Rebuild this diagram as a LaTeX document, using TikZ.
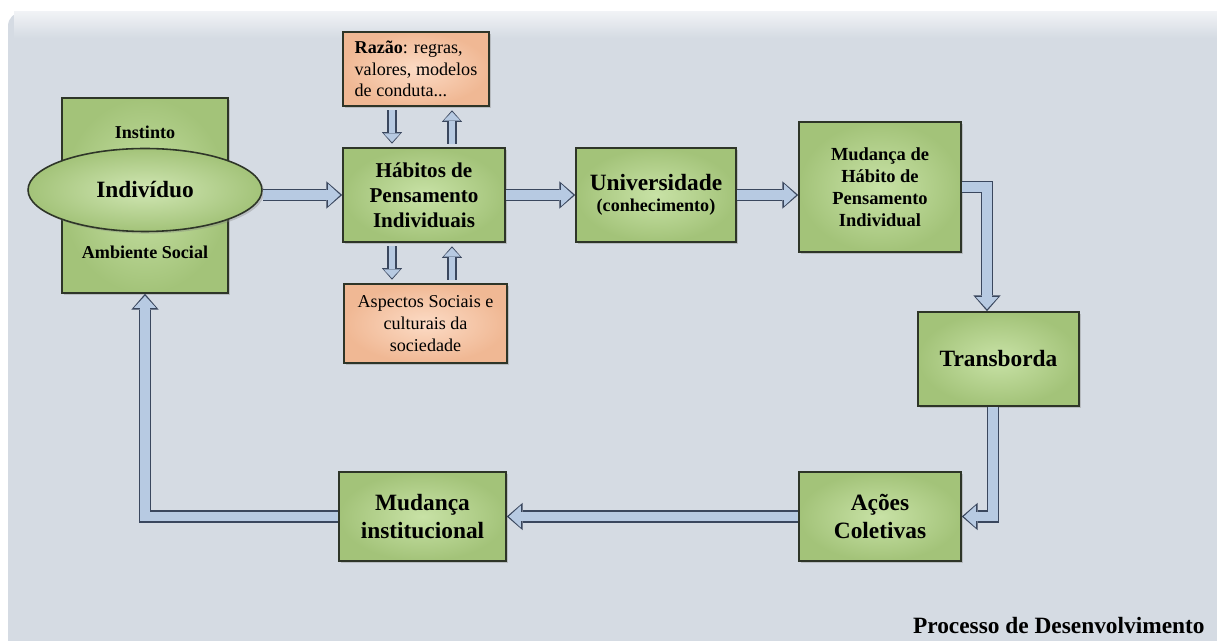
\documentclass[tikz,border=0pt]{standalone}
\usepackage{fontspec}
\setmainfont{Liberation Serif}
\usetikzlibrary{arrows.meta,shadows,shapes.geometric}

\definecolor{panel}{HTML}{D5DBE3}
\definecolor{greenin}{HTML}{C8E2A6}
\definecolor{greenout}{HTML}{A3C379}
\definecolor{orangein}{HTML}{FCDBC5}
\definecolor{orangeout}{HTML}{F0B894}
\definecolor{arrowfill}{HTML}{B7CAE2}
\definecolor{arrowline}{HTML}{3A475E}
\definecolor{boxline}{HTML}{2E3528}

\newcommand\bigtxt{\fontsize{13.3}{15.5}\selectfont\bfseries}
\newcommand\midtxt{\fontsize{12}{14.2}\selectfont\bfseries}
\newcommand\smalltxt{\fontsize{10.3}{12.4}\selectfont}

\pgfdeclarelayer{background layer}
\pgfsetlayers{background layer,main}
\tikzstyle{greenbox}=[rectangle,draw=boxline,line width=0.9pt,inner color=greenin,outer color=greenout,align=center,drop shadow={shadow xshift=1.2pt,shadow yshift=-1.2pt,opacity=0.35}]
\tikzstyle{orangebox}=[rectangle,draw=boxline,line width=0.9pt,inner color=orangein,outer color=orangeout,drop shadow={shadow xshift=1.2pt,shadow yshift=-1.2pt,opacity=0.35}]
\tikzstyle{flow}=[draw=arrowfill,line width=5.2pt,line join=miter,shorten >=1.2pt,-{Triangle[length=6.8pt,width=12.5pt,line width=0pt]},preaction={draw=arrowline,line width=7pt,shorten >=0pt,-{Triangle[length=9pt,width=15.5pt,line width=0pt]}}]
\tikzstyle{smallflow}=[draw=arrowfill,line width=3.6pt,shorten >=2.9pt,shorten <=2pt,-{Triangle[length=5pt,width=9.5pt,line width=0pt]},preaction={draw=arrowline,line width=5.2pt,shorten >=2pt,-{Triangle[length=6.6pt,width=11.5pt,line width=0pt]}}]

\begin{document}
\begin{tikzpicture}[x=0.02cm,y=-0.02cm]
		\useasboundingbox (0,0) rectangle (1217,641);
		\begin{pgfonlayer}{background layer}
			\fill[panel,rounded corners=8pt](8,12) rectangle (1230,660);
			\shade[top color=panel!35!white,bottom color=panel](14,12) rectangle (1217,38);
		\end{pgfonlayer}

		\node (amb) at (145,195.5) [greenbox,minimum width=3.32cm,minimum height=3.9cm] {};
		\node (ins) at (145,132) [font=\smalltxt\bfseries] {Instinto};
		\node (soc) at (145,252) [font=\smalltxt\bfseries] {Ambiente Social};
		\node (ind) at (145,190) [ellipse,draw=boxline,line width=0.9pt,inner color=greenin!85!white,outer color=greenout,minimum width=4.68cm,minimum height=1.66cm,font=\bigtxt,drop shadow={shadow xshift=1.2pt,shadow yshift=-1.2pt,opacity=0.35}] {Indivíduo};

		\node (raz) at (416,69) [orangebox,minimum width=2.92cm,minimum height=1.48cm,align=left,font=\smalltxt] {\textbf{Razão}: regras,\\valores, modelos\\de conduta...};
		\node (hab) at (424,195) [greenbox,minimum width=3.24cm,minimum height=1.88cm,font=\midtxt] {Hábitos de\\Pensamento\\Individuais};
		\node (asp) at (425.5,323.5) [orangebox,minimum width=3.26cm,minimum height=1.58cm,align=center,font=\smalltxt] {Aspectos Sociais e\\culturais da\\sociedade};

		\node (uni) at (656,195) [greenbox,minimum width=3.2cm,minimum height=1.88cm] {{\bigtxt Universidade}\\{\fontsize{10.3}{12.5}\selectfont\bfseries (conhecimento)}};
		\node (muh) at (880,187) [greenbox,minimum width=3.24cm,minimum height=2.6cm,font=\fontsize{10.5}{12.6}\selectfont\bfseries] {Mudança de\\Hábito de\\Pensamento\\Individual};
		\node (tra) at (998.5,359) [greenbox,minimum width=3.22cm,minimum height=1.88cm,font=\bigtxt] {Transborda};
		\node (aco) at (880,516.5) [greenbox,minimum width=3.24cm,minimum height=1.78cm,font=\bigtxt] {Ações\\Coletivas};
		\node (min) at (422.5,516.5) [greenbox,minimum width=3.34cm,minimum height=1.78cm,font=\bigtxt] {Mudança\\institucional};

		\node (proc) at (1205,633) [anchor=base east,inner sep=0pt,font=\bigtxt] {Processo de Desenvolvimento};

		\coordinate (dl) at (392,0);
		\coordinate (ul) at (452,0);
		\coordinate (c1) at (987,0);
		\coordinate (c2) at (993,0);

		\draw[smallflow](raz.south -| dl) -- (hab.north -| dl);
		\draw[smallflow](hab.north -| ul) -- (raz.south -| ul);
		\draw[smallflow](hab.south -| dl) -- (asp.north -| dl);
		\draw[smallflow](asp.north -| ul) -- (hab.south -| ul);

		\draw[flow](hab -| ind.east) -- (hab);
		\draw[flow](hab) -- (uni);
		\draw[flow](uni) -- (uni -| muh.west);
		\draw[flow](muh.east) -| (c1 |- tra.north);
		\draw[flow](c2 |- tra.south) |- (aco);
		\draw[flow](aco) -- (min);
		\draw[flow](min) -| (amb);
	\end{tikzpicture}
\end{document}
